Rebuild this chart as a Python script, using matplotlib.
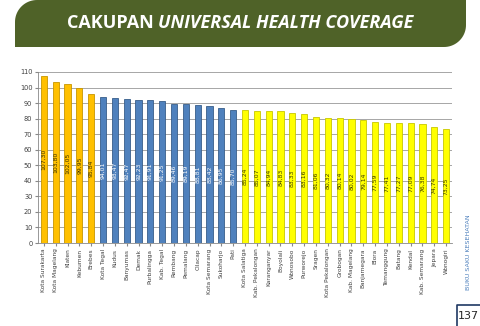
import numpy as np
import matplotlib
matplotlib.use("Agg")
import matplotlib.pyplot as plt
from matplotlib.path import Path
from matplotlib.patches import PathPatch
from matplotlib.lines import Line2D

# regions ordered as in the chart, with their group (colour band)
regions = ["Kota Surakarta", "Kota Magelang", "Klaten", "Kebumen", "Brebes",
           "Kota Tegal", "Kudus", "Banyumas", "Demak", "Purbalingga", "Kab. Tegal",
           "Rembang", "Pemalang", "Cilacap", "Kota Semarang", "Sukoharjo", "Pati",
           "Kota Salatiga", "Kab. Pekalongan", "Karanganyar", "Boyolali", "Wonosobo",
           "Purworejo", "Sragen", "Kota Pekalongan", "Grobogan", "Kab. Magelang",
           "Banjarnegara", "Blora", "Temanggung", "Batang", "Kendal",
           "Kab. Semarang", "Jepara", "Wonogiri"]
coverage = [107.30, 103.80, 102.05, 99.95, 95.84,
            94.01, 93.47, 92.47, 92.23, 91.91, 91.25,
            89.46, 89.19, 88.81, 88.42, 86.95, 85.70,
            85.24, 85.07, 84.94, 84.83, 83.33,
            83.16, 81.06, 80.32, 80.14, 80.02,
            79.14, 77.59, 77.41, 77.27, 77.09,
            76.38, 74.74, 73.25]
groups = ["high"] * 5 + ["mid"] * 12 + ["low"] * 18
yticks = list(range(0, 111, 10))

FACE = {"high": "#FFC000", "mid": "#4F81BD", "low": "#FFFF00"}
EDGE = {"high": "#C89600", "mid": "#385D8A", "low": "#C8C800"}
TXT = {"high": "#3A3000", "mid": "white", "low": "#3A3A00"}

fig = plt.figure(figsize=(4.8, 3.26), dpi=100)
fig.patch.set_facecolor("white")

# title banner: rounded top-left and bottom-right corners (pixel coords, y down)
W, H = 480, 326
x0, x1, y0, y1, r = 15, 466, 0, 47, 22
t = np.linspace(0, np.pi / 2, 20)
verts = [(x0, y1)]
verts += [(x0 + r - r * np.cos(a), y0 + r - r * np.sin(a)) for a in t]
verts += [(x1, y0)]
verts += [(x1 - r + r * np.cos(a), y1 - r + r * np.sin(a)) for a in t]
verts += [(x0, y1)]
verts = [(vx / W, 1 - vy / H) for vx, vy in verts]
banner = PathPatch(Path(verts), facecolor="#4F6228", edgecolor="none",
                   transform=fig.transFigure)
fig.patches.append(banner)

fig.canvas.draw()
rend = fig.canvas.get_renderer()
t1 = fig.text(0, 1 - 23 / H, "CAKUPAN ", color="white", fontsize=13,
              fontweight="bold", family="Open Sans", va="center")
t2 = fig.text(0, 1 - 23 / H, "UNIVERSAL HEALTH COVERAGE", color="white",
              fontsize=13, fontweight="bold", style="italic", family="Open Sans",
              va="center")
w1 = t1.get_window_extent(rend).width
w2 = t2.get_window_extent(rend).width
start = 240 - (w1 + w2) / 2
t1.set_x(start / W)
t2.set_x((start + w1) / W)

ax = fig.add_axes([38 / W, 1 - 243 / H, 414 / W, 171 / H])
x = np.arange(len(regions))
ax.bar(x, coverage, width=0.52,
       color=[FACE[g] for g in groups],
       edgecolor=[EDGE[g] for g in groups], linewidth=0.6, zorder=3)
for xi, v, g in zip(x, coverage, groups):
    ax.text(xi, v / 2, f"{v:.2f}".replace(".", ","), rotation=90,
            ha="center", va="center", fontsize=4.4, color=TXT[g], zorder=4)

ax.set_xlim(-0.5, len(regions) - 0.5)
ax.set_ylim(0, 110)
ax.set_yticks(yticks)
ax.tick_params(axis="y", labelsize=4.8, labelcolor="#404040", length=2,
               color="#888888", pad=2)
ax.set_xticks(x)
ax.set_xticklabels(regions, rotation=90, fontsize=4.2, color="#404040")
ax.tick_params(axis="x", length=2, color="#888888", pad=2)
ax.grid(axis="y", color="#A6A6A6", linewidth=0.7, zorder=0)
for s in ("top", "right"):
    ax.spines[s].set_visible(False)
for s in ("left", "bottom"):
    ax.spines[s].set_color("#888888")
    ax.spines[s].set_linewidth(0.6)

# side caption and page number
fig.text(469 / W, 1 - 252 / H, "BUKU SAKU KESEHATAN", rotation=90,
         fontsize=4.6, color="#4F81BD", ha="center", va="center")
fig.text(468.5 / W, 1 - 316 / H, "137", fontsize=8, color="#262626",
         ha="center", va="center")
fig.lines.append(Line2D([457 / W, 457 / W, 1], [0, 1 - 305 / H, 1 - 305 / H],
                        color="#1F3864", linewidth=1.2, transform=fig.transFigure))

fig.savefig("out.png", dpi=100)
